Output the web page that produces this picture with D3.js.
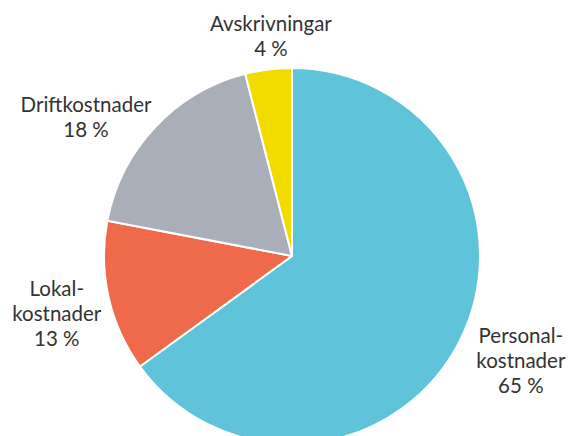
<!DOCTYPE html>
<html>
<head>
<meta charset="utf-8">
<script src="https://cdnjs.cloudflare.com/ajax/libs/d3/7.8.5/d3.min.js"></script>
<style>
    html, body { margin: 0; padding: 0; background: #fff; overflow: hidden; }
</style>
</head>
<body>
<div id="chart"></div>
<script>

// data
var categories = ['Personalkostnader', 'Lokalkostnader', 'Driftkostnader', 'Avskrivningar'];
var values = [65, 13, 18, 4];
var labelLines = [
    ['Personal-', 'kostnader', '65 %'],
    ['Lokal-', 'kostnader', '13 %'],
    ['Driftkostnader', '18 %'],
    ['Avskrivningar', '4 %']
];

// styles
var colors = ['#5fc3da', '#ef6a4b', '#a9aeb8', '#f2dc00'];
// small nudges from the label arc
var labelNudge = [[15, -3], [-1, 7], [-31, 27], [9, 20]];

var attrs = {
    svgWidth: 568,
    svgHeight: 436,
    centerX: 292,
    centerY: 256,
    radius: 188,
    labelRadius: 240,
    lineHeight: 25,
    fontSize: 20.5
};

var data = categories.map(function (d, i) {
    return { name: d, value: values[i], lines: labelLines[i], color: colors[i], nudge: labelNudge[i] };
});

var svg = d3.select('#chart')
    .append('svg')
    .attr('width', attrs.svgWidth)
    .attr('height', attrs.svgHeight);

var chart = svg.append('g')
    .attr('transform', 'translate(' + attrs.centerX + ',' + attrs.centerY + ')');

var pie = d3.pie()
    .sort(null)
    .value(d => d.value);

var arc = d3.arc()
    .innerRadius(0)
    .outerRadius(attrs.radius);

var labelArc = d3.arc()
    .innerRadius(attrs.labelRadius)
    .outerRadius(attrs.labelRadius);

var arcs = pie(data);

// slices
chart.selectAll('path')
    .data(arcs)
    .enter()
    .append('path')
    .attr('d', arc)
    .attr('fill', d => d.data.color)
    .attr('stroke', '#fff')
    .attr('stroke-width', 2)
    .attr('stroke-linejoin', 'round');

// labels
var labels = chart.selectAll('text.label')
    .data(arcs)
    .enter()
    .append('text')
    .attr('class', 'label')
    .attr('text-anchor', 'middle')
    .attr('font-family', 'Lato, "Open Sans", sans-serif')
    .attr('font-weight', 400)
    .attr('font-size', attrs.fontSize)
    .attr('fill', '#333')
    .attr('transform', function (d) {
        var c = labelArc.centroid(d);
        return 'translate(' + (c[0] + d.data.nudge[0]) + ',' + (c[1] + d.data.nudge[1]) + ')';
    });

labels.selectAll('tspan')
    .data(d => d.data.lines.map((l, i, a) => ({ text: l, i: i, n: a.length })))
    .enter()
    .append('tspan')
    .attr('x', 0)
    .attr('y', d => (d.i - (d.n - 1) / 2) * attrs.lineHeight + 6)
    .text(d => d.text);

</script>
</body>
</html>
